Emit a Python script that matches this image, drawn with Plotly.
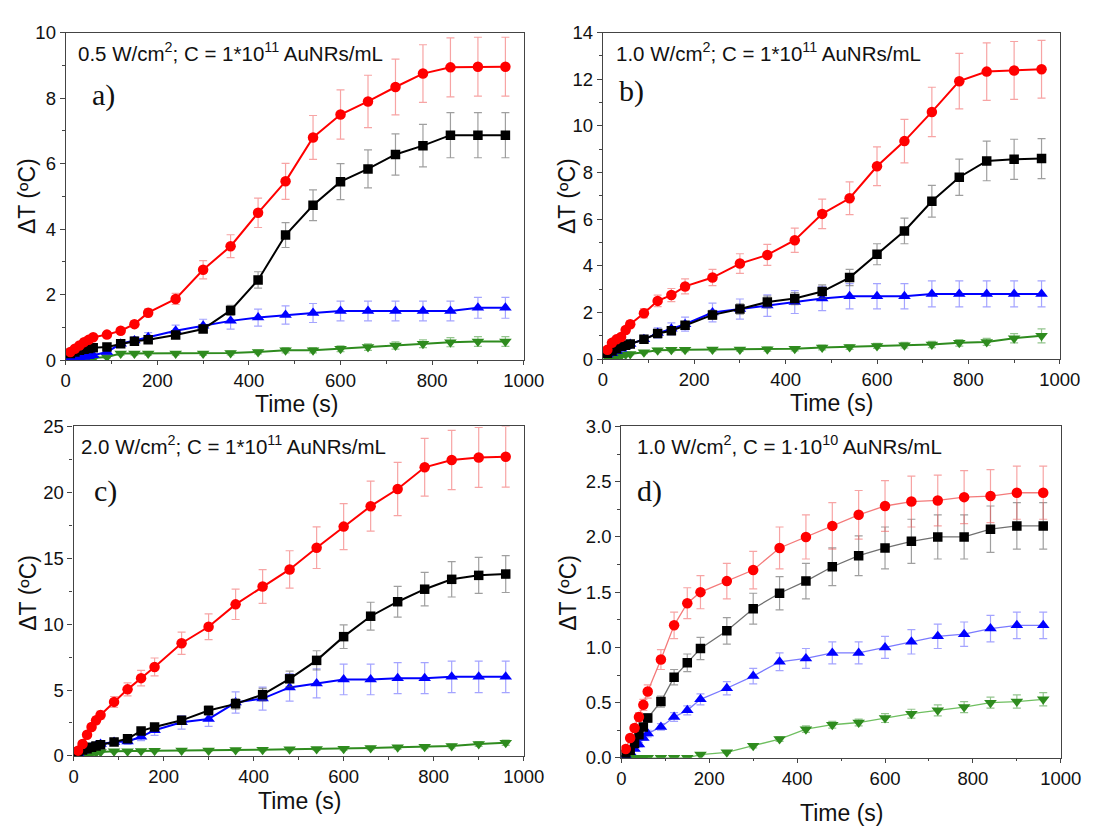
import plotly.graph_objects as go
from plotly.subplots import make_subplots

# ---------------- data ----------------
time_s = [10, 20, 30, 40, 50, 60, 90, 120, 150, 180, 240, 300, 360, 420, 480, 540, 600, 660, 720, 780, 840, 900, 960]

a_red = [0.25, 0.35, 0.45, 0.55, 0.62, 0.7, 0.78, 0.9, 1.1, 1.45, 1.87, 2.76, 3.48, 4.5, 5.46, 6.8, 7.5, 7.9, 8.34, 8.75, 8.94, 8.96, 8.96]
a_red_err = [0.03, 0.04, 0.05, 0.05, 0.06, 0.07, 0.08, 0.09, 0.1, 0.12, 0.17, 0.28, 0.35, 0.45, 0.55, 0.67, 0.75, 0.8, 0.85, 0.88, 0.9, 0.9, 0.9]
a_black = [0.2, 0.25, 0.3, 0.33, 0.36, 0.38, 0.4, 0.5, 0.58, 0.62, 0.77, 0.95, 1.52, 2.45, 3.82, 4.73, 5.45, 5.84, 6.28, 6.55, 6.87, 6.87, 6.87]
a_black_err = [0.02, 0.03, 0.03, 0.03, 0.04, 0.04, 0.04, 0.05, 0.06, 0.07, 0.08, 0.1, 0.15, 0.25, 0.38, 0.47, 0.55, 0.58, 0.63, 0.65, 0.69, 0.69, 0.69]
a_blue = [0.05, 0.07, 0.08, 0.1, 0.12, 0.15, 0.25, 0.5, 0.6, 0.7, 0.9, 1.05, 1.2, 1.3, 1.38, 1.44, 1.5, 1.5, 1.5, 1.5, 1.5, 1.6, 1.6]
a_blue_err = [0.02, 0.02, 0.03, 0.03, 0.04, 0.05, 0.08, 0.1, 0.12, 0.14, 0.17, 0.2, 0.25, 0.26, 0.28, 0.29, 0.3, 0.3, 0.3, 0.3, 0.3, 0.32, 0.32]
a_green = [0.02, 0.03, 0.03, 0.04, 0.04, 0.05, 0.1, 0.2, 0.2, 0.2, 0.2, 0.2, 0.22, 0.25, 0.3, 0.3, 0.35, 0.4, 0.45, 0.5, 0.55, 0.57, 0.57]
a_green_err = [0.01, 0.01, 0.01, 0.01, 0.02, 0.02, 0.03, 0.05, 0.05, 0.05, 0.05, 0.05, 0.06, 0.06, 0.08, 0.08, 0.09, 0.1, 0.11, 0.12, 0.14, 0.15, 0.15]

b_red = [0.4, 0.7, 0.85, 0.95, 1.25, 1.5, 1.97, 2.5, 2.75, 3.12, 3.5, 4.1, 4.47, 5.1, 6.23, 6.9, 8.27, 9.35, 10.6, 11.92, 12.33, 12.38, 12.43]
b_red_err = [0.04, 0.07, 0.09, 0.1, 0.13, 0.15, 0.2, 0.25, 0.28, 0.32, 0.35, 0.42, 0.45, 0.52, 0.63, 0.7, 0.83, 0.93, 1.06, 1.19, 1.23, 1.24, 1.24]
b_black = [0.25, 0.35, 0.45, 0.55, 0.6, 0.65, 0.85, 1.1, 1.22, 1.45, 1.9, 2.15, 2.45, 2.6, 2.9, 3.5, 4.5, 5.5, 6.77, 7.8, 8.5, 8.57, 8.6]
b_black_err = [0.03, 0.04, 0.05, 0.06, 0.06, 0.07, 0.09, 0.11, 0.12, 0.15, 0.19, 0.22, 0.25, 0.26, 0.29, 0.35, 0.45, 0.55, 0.68, 0.78, 0.85, 0.86, 0.86]
b_blue = [0.2, 0.25, 0.35, 0.45, 0.55, 0.65, 0.85, 1.12, 1.3, 1.5, 2.0, 2.15, 2.3, 2.45, 2.6, 2.7, 2.7, 2.7, 2.8, 2.8, 2.8, 2.8, 2.8]
b_blue_err = [0.04, 0.05, 0.07, 0.09, 0.1, 0.12, 0.17, 0.22, 0.26, 0.3, 0.4, 0.43, 0.46, 0.49, 0.52, 0.54, 0.54, 0.54, 0.56, 0.56, 0.56, 0.56, 0.56]
b_green = [0.05, 0.08, 0.1, 0.15, 0.2, 0.22, 0.3, 0.38, 0.4, 0.4, 0.42, 0.42, 0.43, 0.45, 0.5, 0.52, 0.57, 0.6, 0.63, 0.7, 0.74, 0.9, 1.0]
b_green_err = [0.01, 0.02, 0.02, 0.03, 0.04, 0.04, 0.06, 0.08, 0.08, 0.08, 0.08, 0.08, 0.09, 0.09, 0.1, 0.1, 0.11, 0.12, 0.13, 0.14, 0.15, 0.2, 0.3]

c_red = [0.4, 0.9, 1.6, 2.2, 2.7, 3.1, 4.1, 5.05, 5.9, 6.75, 8.55, 9.8, 11.5, 12.85, 14.15, 15.8, 17.4, 18.95, 20.25, 21.9, 22.45, 22.65, 22.7]
c_red_err = [0.04, 0.09, 0.16, 0.22, 0.27, 0.31, 0.41, 0.5, 0.59, 0.68, 0.85, 0.98, 1.15, 1.28, 1.42, 1.58, 1.74, 1.9, 2.02, 2.19, 2.25, 2.27, 2.3]
c_black = [0.3, 0.45, 0.55, 0.65, 0.75, 0.85, 1.05, 1.3, 1.9, 2.2, 2.7, 3.45, 3.95, 4.65, 5.85, 7.25, 9.05, 10.6, 11.7, 12.65, 13.4, 13.7, 13.8]
c_black_err = [0.03, 0.05, 0.06, 0.07, 0.08, 0.09, 0.11, 0.13, 0.19, 0.22, 0.27, 0.35, 0.4, 0.47, 0.59, 0.73, 0.9, 1.06, 1.17, 1.27, 1.34, 1.37, 1.4]
c_blue = [0.2, 0.4, 0.55, 0.65, 0.8, 0.9, 1.05, 1.1, 1.45, 1.95, 2.55, 2.8, 4.05, 4.35, 5.2, 5.5, 5.8, 5.8, 5.9, 5.9, 6.0, 6.0, 6.0]
c_blue_err = [0.04, 0.08, 0.11, 0.13, 0.16, 0.18, 0.21, 0.22, 0.29, 0.39, 0.51, 0.56, 0.81, 0.87, 1.04, 1.1, 1.16, 1.16, 1.18, 1.18, 1.2, 1.2, 1.2]
c_green = [0.05, 0.1, 0.15, 0.2, 0.25, 0.3, 0.35, 0.35, 0.38, 0.4, 0.42, 0.42, 0.45, 0.47, 0.5, 0.52, 0.55, 0.6, 0.65, 0.7, 0.75, 0.9, 1.0]
c_green_err = [0.01, 0.02, 0.03, 0.04, 0.05, 0.06, 0.07, 0.07, 0.08, 0.08, 0.08, 0.08, 0.09, 0.09, 0.1, 0.1, 0.11, 0.12, 0.13, 0.14, 0.15, 0.18, 0.2]

d_red = [0.08, 0.18, 0.27, 0.37, 0.48, 0.6, 0.89, 1.2, 1.4, 1.5, 1.6, 1.7, 1.9, 2.0, 2.1, 2.2, 2.28, 2.32, 2.33, 2.36, 2.37, 2.4, 2.4]
d_red_err = [0.01, 0.02, 0.03, 0.04, 0.05, 0.06, 0.09, 0.12, 0.14, 0.15, 0.16, 0.17, 0.19, 0.2, 0.21, 0.22, 0.23, 0.23, 0.23, 0.24, 0.24, 0.24, 0.24]
d_black = [0.03, 0.07, 0.13, 0.21, 0.28, 0.36, 0.51, 0.73, 0.86, 0.99, 1.15, 1.35, 1.49, 1.6, 1.73, 1.83, 1.9, 1.96, 2.0, 2.0, 2.07, 2.1, 2.1]
d_black_err = [0.01, 0.01, 0.02, 0.03, 0.03, 0.04, 0.05, 0.07, 0.08, 0.1, 0.12, 0.14, 0.15, 0.16, 0.17, 0.18, 0.19, 0.2, 0.2, 0.2, 0.21, 0.21, 0.21]
d_blue = [0.02, 0.05, 0.08, 0.12, 0.18, 0.22, 0.28, 0.37, 0.43, 0.53, 0.63, 0.74, 0.87, 0.9, 0.95, 0.95, 1.0, 1.05, 1.1, 1.12, 1.17, 1.2, 1.2]
d_blue_err = [0.01, 0.01, 0.01, 0.02, 0.02, 0.03, 0.03, 0.04, 0.04, 0.05, 0.06, 0.07, 0.08, 0.09, 0.1, 0.1, 0.1, 0.11, 0.11, 0.11, 0.12, 0.12, 0.12]
d_green = [0.0, 0.0, 0.0, 0.0, 0.0, 0.0, 0.0, 0.0, 0.0, 0.03, 0.05, 0.11, 0.17, 0.26, 0.3, 0.32, 0.36, 0.4, 0.43, 0.46, 0.5, 0.51, 0.53]
d_green_err = [0.0, 0.0, 0.0, 0.0, 0.0, 0.0, 0.0, 0.0, 0.0, 0.01, 0.01, 0.02, 0.02, 0.03, 0.03, 0.03, 0.04, 0.04, 0.05, 0.05, 0.05, 0.06, 0.06]

panel_texts = [
    "0.5 W/cm<sup>2</sup>; C = 1*10<sup>11</sup> AuNRs/mL",
    "1.0 W/cm<sup>2</sup>; C = 1*10<sup>11</sup> AuNRs/mL",
    "2.0 W/cm<sup>2</sup>; C = 1*10<sup>11</sup> AuNRs/mL",
    "1.0 W/cm<sup>2</sup>, C = 1·10<sup>10</sup> AuNRs/mL",
]
panel_labels = ["a)", "b)", "c)", "d)"]
y_ranges = [(0, 10), (0, 14), (0, 25), (0, 3)]
y_dticks = [2, 2, 5, 0.5]
y_fmt = ["d", "d", "d", ".1f"]
x_title = "Time (s)"
y_title = "ΔT (ºC)"

# ---------------- layout geometry (screen px) ----------------
W, H = 1107, 832
OFF = 8  # page body margin offsets the plot by this many pixels

# (left, right, top, bottom) of each plot frame
frames = [
    (62, 531, 22, 358),
    (612, 1080, 22, 357),
    (70, 531, 426, 764),
    (631, 1081, 426, 766),
]
text_pos = [(73, 42), (623, 42), (76, 445), (645, 445)]
label_pos = [(87, 86), (627, 82), (89, 492), (645, 492)]
xtitle_pos = [(298, 403), (846, 402), (301, 810), (856, 823)]
ytitle_pos = [(23, 190), (576, 190), (24, 597), (576, 597)]


def px_x(x):
    return (x - OFF) / W


def px_y(y):
    return 1 - (y - OFF) / H


fig = make_subplots(rows=2, cols=2)

colors = {
    "red": ("#ff0000", "rgba(240,90,90,0.55)", "circle", 10.5),
    "black": ("#000000", "rgba(80,80,80,0.55)", "square", 9.5),
    "blue": ("#0000ff", "rgba(90,90,255,0.55)", "triangle-up", 11),
    "green": ("#2e8b1e", "rgba(60,150,50,0.55)", "triangle-down", 11),
}
light_line = {"red": "#f47a7a", "black": "#707070", "blue": "#7a7aff", "green": "#6fbf60"}

panels = [
    [("green", a_green, a_green_err), ("blue", a_blue, a_blue_err), ("black", a_black, a_black_err), ("red", a_red, a_red_err)],
    [("green", b_green, b_green_err), ("blue", b_blue, b_blue_err), ("black", b_black, b_black_err), ("red", b_red, b_red_err)],
    [("green", c_green, c_green_err), ("blue", c_blue, c_blue_err), ("black", c_black, c_black_err), ("red", c_red, c_red_err)],
    [("green", d_green, d_green_err), ("blue", d_blue, d_blue_err), ("black", d_black, d_black_err), ("red", d_red, d_red_err)],
]

pos = [(1, 1), (1, 2), (2, 1), (2, 2)]
for i, series in enumerate(panels):
    r, c = pos[i]
    for name, vals, errs in series:
        col, ecol, sym, msize = colors[name]
        lcol = light_line[name] if i == 3 else col
        lw = 1.3 if i == 3 else 2
        fig.add_trace(
            go.Scatter(
                x=time_s, y=vals, mode="lines+markers",
                line=dict(color=lcol, width=lw),
                marker=dict(color=col, symbol=sym, size=msize),
                error_y=dict(type="data", array=errs, visible=True, color=ecol, thickness=1.2, width=4),
                showlegend=False, hoverinfo="skip",
            ),
            row=r, col=c,
        )

sans = "Liberation Sans, Arial, sans-serif"
axis_font = dict(family=sans, size=18.5, color="#111")
title_font = dict(family=sans, size=23, color="#111")

for i in range(4):
    suffix = "" if i == 0 else str(i + 1)
    L, R, T, B = frames[i]
    fig.layout["xaxis" + suffix].update(
        domain=[px_x(L), px_x(R)], range=[0, 1000], dtick=200, tick0=0,
        showline=True, linecolor="#444", linewidth=1.2, mirror=True,
        ticks="outside", ticklen=4, tickwidth=1.2, tickcolor="#444",
        minor=dict(ticks="outside", ticklen=2.5, dtick=100, tickcolor="#444", tickwidth=1),
        showgrid=False, zeroline=False, tickfont=axis_font,
    )
    y0, y1 = y_ranges[i]
    fig.layout["yaxis" + suffix].update(
        domain=[px_y(B), px_y(T)], range=[y0, y1], dtick=y_dticks[i], tick0=0, tickformat=y_fmt[i],
        showline=True, linecolor="#444", linewidth=1.2, mirror=True,
        ticks="outside", ticklen=5, tickwidth=1.2, tickcolor="#444",
        minor=dict(ticks="outside", ticklen=3, dtick=y_dticks[i] / 2, tickcolor="#444", tickwidth=1),
        showgrid=False, zeroline=False, tickfont=axis_font,
    )
    tx, ty = text_pos[i]
    fig.add_annotation(
        x=px_x(tx), y=px_y(ty), xref="paper", yref="paper", xanchor="left", yanchor="middle",
        text=panel_texts[i], showarrow=False,
        font=dict(family=sans, size=20.5, color="#111"),
    )
    lx, ly = label_pos[i]
    fig.add_annotation(
        x=px_x(lx), y=px_y(ly), xref="paper", yref="paper", xanchor="left", yanchor="middle",
        text=panel_labels[i], showarrow=False,
        font=dict(family="Liberation Serif, Times New Roman, serif", size=30, color="#111"),
    )
    xx, xy = xtitle_pos[i]
    fig.add_annotation(
        x=px_x(xx), y=px_y(xy), xref="paper", yref="paper", xanchor="center", yanchor="middle",
        text=x_title, showarrow=False, font=title_font,
    )
    yx, yy = ytitle_pos[i]
    fig.add_annotation(
        x=px_x(yx), y=px_y(yy), xref="paper", yref="paper", xanchor="center", yanchor="middle",
        text=y_title, textangle=-90, showarrow=False, font=title_font,
    )

fig.update_layout(
    width=W, height=H, margin=dict(l=0, r=0, t=0, b=0),
    paper_bgcolor="white", plot_bgcolor="white", showlegend=False,
)

fig.write_html("out.html")
